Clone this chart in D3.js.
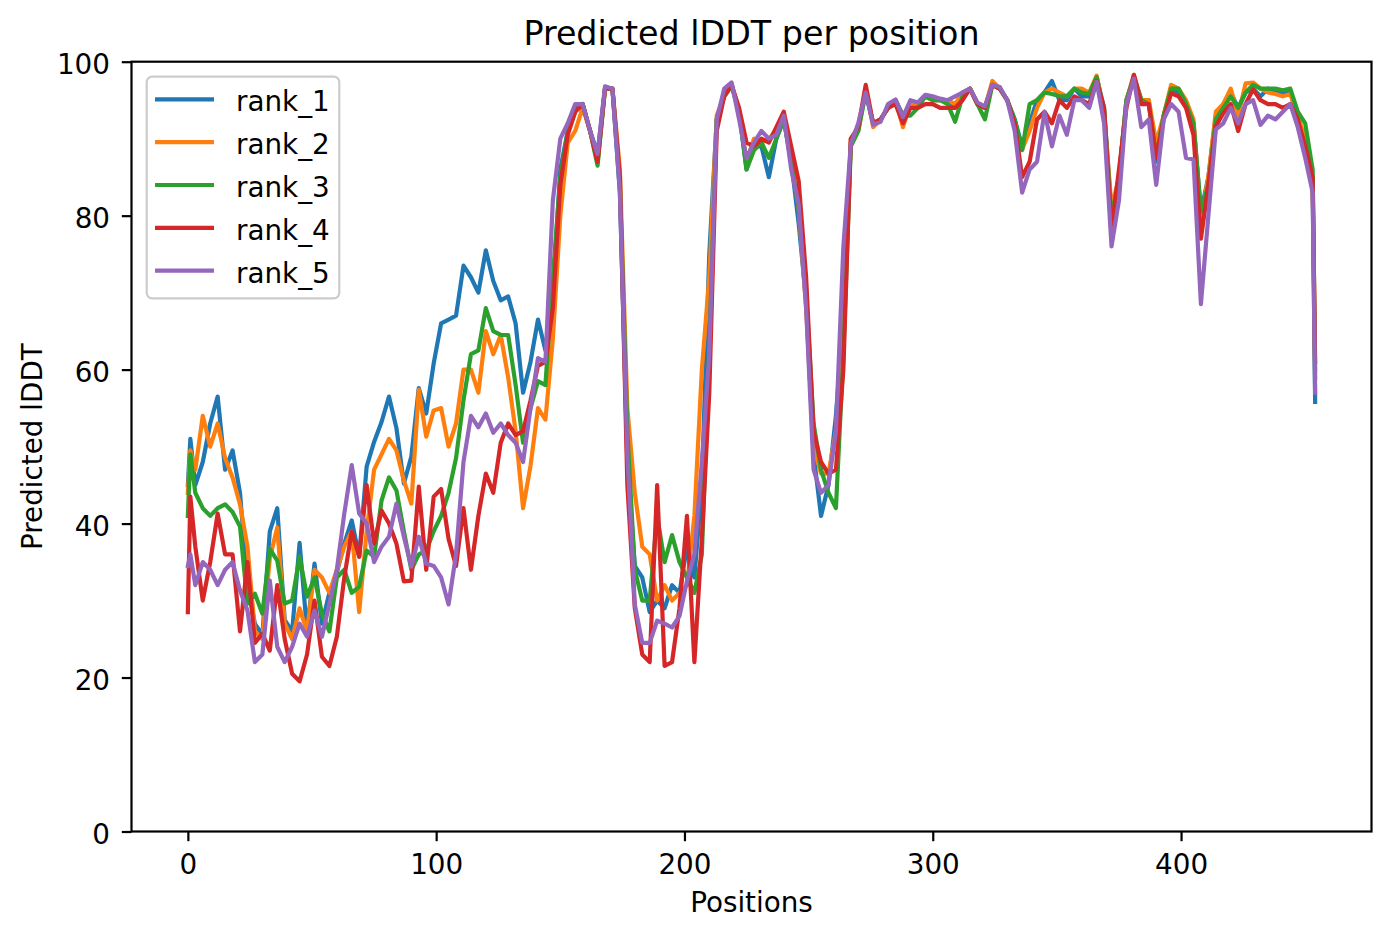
<!DOCTYPE html>
<html>
<head>
<meta charset="utf-8">
<script src="https://cdn.jsdelivr.net/npm/d3@7"></script>
<style>
  body { margin: 0; background: #ffffff; }
  svg { display: block; font-family: "DejaVu Sans", sans-serif; }
</style>
</head>
<body>
<div id="chart"></div>
<script>
// residue positions where values were read
const positions = [
  0, 1, 3, 6, 9, 12, 15, 18, 21, 24,
  27, 30, 33, 36, 39, 42, 45, 48, 51, 54,
  57, 60, 63, 66, 69, 72, 75, 78, 81, 84,
  87, 90, 93, 96, 99, 102, 105, 108, 111, 114,
  117, 120, 123, 126, 129, 132, 135, 138, 141, 144,
  147, 150, 153, 156, 159, 162, 165, 168, 171, 174,
  177, 180, 183, 186, 189, 192, 195, 198, 201, 204,
  207, 210, 213, 216, 219, 222, 225, 228, 231, 234,
  237, 240, 243, 246, 249, 252, 255, 258, 261, 264,
  267, 270, 273, 276, 279, 282, 285, 288, 291, 294,
  297, 300, 303, 306, 309, 312, 315, 318, 321, 324,
  327, 330, 333, 336, 339, 342, 345, 348, 351, 354,
  357, 360, 363, 366, 369, 372, 375, 378, 381, 384,
  387, 390, 393, 396, 399, 402, 405, 408, 411, 414,
  417, 420, 423, 426, 429, 432, 435, 438, 441, 444,
  447, 450, 453, 454
];

const rank1 = [
  45, 51, 45, 48, 53, 56.5, 47, 49.5, 44, 32,
  27, 25.5, 39, 42, 27.5, 26, 37.5, 26, 34.8, 27,
  31, 33.6, 37.4, 40.4, 35.7, 47.4, 50.6, 53.2, 56.5, 52.4,
  45.2, 48.7, 57.6, 54.3, 60.8, 66, 66.5, 67, 73.5, 72,
  70, 75.5, 71.5, 69, 69.5, 66, 57, 61, 66.5, 62.5,
  70, 86, 91, 94, 94.5, 91, 88, 96.5, 96.5, 83,
  48, 34.5, 33, 28.5, 30, 29, 32, 31, 37, 33,
  45, 75, 92.5, 95.5, 97, 93.5, 86, 89, 89, 85,
  90, 92.5, 87, 79, 69, 49, 41, 45, 54, 67,
  89.5, 91.5, 96, 92, 92.5, 94, 95, 93, 94.5, 94.5,
  95.5, 95, 95, 95, 94, 96, 96.5, 94.5, 94, 97,
  96.5, 95, 92.5, 89, 92, 95, 96, 97.5, 95, 95,
  96.5, 95.5, 95.5, 98, 94, 80, 85, 95, 98, 95,
  95, 87, 93, 96.5, 96, 94.5, 92, 80.5, 85, 93,
  94.5, 96, 94, 96, 96.5, 95.5, 96.5, 96, 96, 96,
  93, 89, 84, 55.8
];

const rank2 = [
  44, 49.5, 47, 54, 50, 53, 48.5, 46, 42.5, 37,
  26, 25, 35.5, 39.5, 27, 25, 29, 26, 34, 33,
  31, 34, 37, 39, 28.5, 39, 47, 49, 51, 49.5,
  45.6, 42.6, 57.4, 51.3, 54.7, 55, 50, 53, 60, 60,
  57, 65, 62, 64.5, 59, 52, 42, 47.5, 55, 53.5,
  64, 80, 89.5, 91, 94, 91, 87, 96.5, 96.5, 86,
  55, 44, 37, 36, 30, 32, 30, 31, 32, 41,
  60, 72, 93, 95.5, 97, 93.5, 87, 90, 89.5, 90,
  91, 93, 87, 81, 68, 50, 46.5, 46.5, 52, 65,
  90, 91, 96.5, 91.5, 92.5, 94, 95, 91.5, 94.5, 94.5,
  95.5, 95, 95, 95, 94.5, 96, 96.5, 94.5, 94, 97.5,
  96.5, 95, 92, 88.6, 91, 94, 96, 96.5, 96, 95.5,
  96.5, 96.5, 96, 98.2, 93.5, 81, 85, 95, 98.3, 95,
  95, 89.5, 93, 97, 96.5, 95, 92.5, 79.5, 85, 93.5,
  94.5, 96.5, 93, 97.2, 97.3, 96.5, 96, 95.8, 95.5, 95.8,
  93, 90, 85, 60
];

const rank3 = [
  41, 49, 44, 42, 41, 42, 42.5, 41.5, 39.6, 29.6,
  30.9, 28.3, 36.7, 35.2, 29.6, 30, 35.7, 30.5, 33, 28.3,
  26, 33, 34, 31, 31.8, 36.5, 35.7, 43, 46, 44.3,
  39, 34, 36, 36.5, 39, 41, 44, 48.5, 56, 62,
  62.5, 68, 65, 64.5, 64.5, 58, 50.5, 55, 58.5, 58,
  72, 85, 91, 93.5, 94.5, 91, 86.5, 96.5, 96.5, 84,
  52, 34, 30, 30, 41, 35, 38.5, 35, 33, 31,
  36, 63, 92.5, 95.5, 96.8, 93.5, 86, 88.5, 89.5, 87.5,
  90, 92.5, 87, 81, 70, 53, 47, 44, 42, 62,
  89, 91, 96, 92, 92.5, 94, 95, 93, 93, 94,
  95.5, 95, 95, 94.5, 92.2, 95.5, 96.5, 94.5, 92.5, 97,
  96.5, 95, 92.5, 88.5, 94.5, 95, 96, 95.8, 95.5, 95.5,
  96.5, 96, 95.8, 98, 93.5, 79.5, 85, 95, 98, 95,
  94.5, 87.6, 93, 96.5, 96.5, 94.5, 92, 80.5, 84, 92.5,
  94, 95.5, 94, 96, 97, 96.5, 96.5, 96.5, 96.3, 96.5,
  93.5, 92, 86, 59
];

const rank4 = [
  28.5, 43.5, 37, 30, 35, 41.3, 36, 36, 26, 35,
  24.5, 25.7, 23.5, 32, 25, 20.5, 19.5, 23, 30, 22.7,
  21.5, 25.3, 33, 39, 35.7, 45, 37.4, 41.7, 40, 37.4,
  32.5, 32.6, 44.8, 34, 43.5, 44.5, 38, 34.5, 42, 34,
  41, 46.5, 44, 50.5, 53, 51.5, 52, 56, 60.5, 61,
  68, 84, 90.5, 93.5, 94.5, 91, 87, 96.5, 96.5, 85,
  45, 29, 23, 22, 45, 21.5, 22, 29, 41, 22,
  38, 57, 91, 95.5, 97, 94, 89.5, 89, 90, 89.5,
  91.5, 93.5, 89, 84.5, 72, 52, 48, 46.5, 47, 60,
  90, 91.5, 97, 92, 92.5, 94, 94.5, 92, 94, 94,
  94.5, 94.5, 94, 94, 94, 95, 96.5, 94.5, 94, 97,
  96.5, 95, 92, 85, 87, 92.5, 93.5, 92, 95, 94,
  95.5, 95, 94.5, 97.5, 94, 78, 86, 94, 98.3, 94.5,
  94.5, 87.5, 92.5, 95.9, 95.5, 94, 90.5, 77, 84, 91.6,
  93.3, 94.5, 91, 94.5, 96.4, 95, 94.5, 94.5, 94, 94.5,
  92.5, 89, 85, 61
];

const rank5 = [
  34.5, 36, 32, 35, 34, 32, 34, 35, 31.3, 28.7,
  22, 23, 32.6, 24, 22, 24, 27, 25.3, 28.7, 25.3,
  29.6, 34, 41.3, 47.6, 41.3, 40, 35, 37, 38.3, 42.6,
  38.3, 34.4, 38.3, 34.8, 34.5, 33, 29.5, 36, 48, 54,
  52.5, 54.3, 51.8, 53, 51.5, 50.5, 48, 55, 61.5, 61,
  82, 90, 92, 94.5, 94.5, 91, 88, 96.8, 96.5, 83,
  49, 29.5, 24.5, 24.5, 27.4, 27, 26.5, 28, 32.5, 36,
  48, 62, 92.5, 96.5, 97.3, 92.5, 87.5, 89.5, 91, 90,
  90.5, 93, 86, 81.5, 68, 47, 44, 45, 52, 76,
  89.3, 92, 96, 91.8, 92.2, 94.5, 95.1, 92.8, 95, 94.7,
  95.7, 95.5, 95.2, 95, 95.5, 96, 96.5, 94.7, 94.2, 97,
  96.7, 95, 91, 83, 86, 87, 93.5, 89, 93, 90.5,
  95, 95, 94, 97.4, 92, 76, 82, 94.5, 97.8, 91.5,
  92.5, 84, 92.5, 94.5, 93.5, 87.5, 87.3, 68.5, 80, 91.2,
  92, 94, 92, 94.5, 95, 91.8, 93, 92.5, 93.5, 94.5,
  91.5, 87.5, 83, 57
];

const seriesNames = ["rank_1", "rank_2", "rank_3", "rank_4", "rank_5"];
const seriesValues = [rank1, rank2, rank3, rank4, rank5];
const xTicks = [0, 100, 200, 300, 400];
const yTicks = [0, 20, 40, 60, 80, 100];

// matplotlib tab10
const colors = ["#1f77b4", "#ff7f0e", "#2ca02c", "#d62728", "#9467bd"];

const W = 1391, H = 939;
const plot = { left: 131.5, right: 1371.5, top: 61.7, bottom: 831.5 };
const fs = 27.8;

const svg = d3.select("#chart").append("svg")
  .attr("width", W)
  .attr("height", H);

// matplotlib pads the x range by 5% of the data span
const xMax = d3.max(positions);
const xPad = xMax * 0.05;
const x = d3.scaleLinear().domain([-xPad, xMax + xPad]).range([plot.left, plot.right]);
const y = d3.scaleLinear().domain([0, 100]).range([plot.bottom, plot.top]);

// Lines
const line = d3.line()
  .x((d, i) => x(positions[i]))
  .y(d => y(d));

seriesValues.forEach((vals, i) => {
  svg.append("path")
    .datum(vals)
    .attr("d", line)
    .attr("fill", "none")
    .attr("stroke", colors[i])
    .attr("stroke-width", 4.2)
    .attr("stroke-linejoin", "round")
    .attr("stroke-linecap", "square");
});

// Axes
const xAxis = svg.append("g")
  .attr("transform", `translate(0,${plot.bottom})`)
  .call(d3.axisBottom(x).tickValues(xTicks).tickSize(9.7).tickPadding(13).tickFormat(d3.format("d")));

const yAxis = svg.append("g")
  .attr("transform", `translate(${plot.left},0)`)
  .call(d3.axisLeft(y).tickValues(yTicks).tickSize(9.7).tickPadding(11.8).tickFormat(d3.format("d")));

[xAxis, yAxis].forEach(g => {
  g.select(".domain").remove();
  g.selectAll(".tick line").attr("stroke", "#000").attr("stroke-width", 2.2);
  g.selectAll(".tick text")
    .attr("fill", "#000")
    .style("font-size", fs + "px")
    .style("font-family", "DejaVu Sans");
});
yAxis.selectAll(".tick text").attr("dy", "0.43em");

// Spines
svg.append("rect")
  .attr("x", plot.left)
  .attr("y", plot.top)
  .attr("width", plot.right - plot.left)
  .attr("height", plot.bottom - plot.top)
  .attr("fill", "none")
  .attr("stroke", "#000")
  .attr("stroke-width", 2.2);

// Title and axis labels
svg.append("text")
  .attr("x", (plot.left + plot.right) / 2)
  .attr("y", 45)
  .attr("text-anchor", "middle")
  .style("font-size", "33.3px")
  .text("Predicted lDDT per position");

svg.append("text")
  .attr("x", (plot.left + plot.right) / 2)
  .attr("y", 912)
  .attr("text-anchor", "middle")
  .style("font-size", fs + "px")
  .text("Positions");

svg.append("text")
  .attr("transform", `translate(42,${(plot.top + plot.bottom) / 2}) rotate(-90)`)
  .attr("text-anchor", "middle")
  .style("font-size", fs + "px")
  .text("Predicted lDDT");

// Legend
const legend = svg.append("g").attr("transform", "translate(146.7,76.7)");

legend.append("rect")
  .attr("width", 192.6)
  .attr("height", 221.6)
  .attr("rx", 5.5)
  .attr("fill", "#ffffff")
  .attr("fill-opacity", 0.8)
  .attr("stroke", "#cccccc")
  .attr("stroke-width", 2.2);

seriesNames.forEach((name, i) => {
  const cy = 22.6 + i * 42.85;
  legend.append("line")
    .attr("x1", 8.3)
    .attr("x2", 67.3)
    .attr("y1", cy)
    .attr("y2", cy)
    .attr("stroke", colors[i])
    .attr("stroke-width", 4.2);
  legend.append("text")
    .attr("x", 89.3)
    .attr("y", cy + 12.2)
    .style("font-size", fs + "px")
    .text(name);
});
</script>
</body>
</html>
